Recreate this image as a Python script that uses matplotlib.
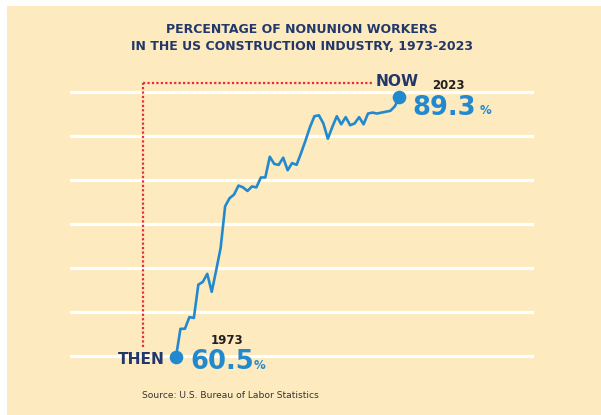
import matplotlib
matplotlib.use("Agg")
import matplotlib.pyplot as plt
from matplotlib.patches import Rectangle
from matplotlib.lines import Line2D
import numpy as np

# ---------------- data ----------------
years = list(range(1973, 2024))
nonunion_pct = [
    60.5, 63.6, 63.6, 64.9, 64.8, 68.5, 68.8, 69.7, 67.7, 70.1,   # 1973-1982
    72.6, 77.2, 78.1, 78.5, 79.5, 79.3, 78.9, 79.4, 79.3, 80.4,   # 1983-1992
    80.4, 82.7, 81.9, 81.8, 82.6, 81.2, 82.0, 81.8, 83.1, 84.5,   # 1993-2002
    86.0, 87.2, 87.3, 86.4, 84.7, 86.0, 87.2, 86.3, 87.1, 86.2,   # 2003-2012
    86.4, 87.1, 86.3, 87.5, 87.6, 87.5, 87.6, 87.7, 87.8, 88.3,   # 2013-2022
    89.3,                                                         # 2023
]
assert len(years) == len(nonunion_pct)

title_lines = ["PERCENTAGE OF NONUNION WORKERS",
               "IN THE US CONSTRUCTION INDUSTRY, 1973-2023"]
start_label = "THEN"
end_label = "NOW"
source_text = "Source: U.S. Bureau of Labor Statistics"

# ---------------- style ----------------
W, H = 601, 415
BG = "#FEEABF"
BLUE = "#2389CF"
NAVY = "#22386A"
DARK = "#231F20"
RED = "#E62E3A"

fig = plt.figure(figsize=(W / 100, H / 100), dpi=100)
fig.patch.set_facecolor("white")
fig.patches.append(Rectangle((7 / W, 0), 1 - 7 / W, (H - 6) / H,
                             transform=fig.transFigure, facecolor=BG,
                             edgecolor="none", zorder=-5))


def fx(px):
    return px / W


def fy(py):
    return 1 - py / H


# axes covering gridline area (pixel box: x 70..533, y 80..370)
ax = fig.add_axes([fx(70), fy(370), fx(533.5) - fx(70), fy(80) - fy(370)])
ax.set_facecolor("none")
ax.set_zorder(1)
for s in ax.spines.values():
    s.set_visible(False)

# pixel -> data mapping derived from picture (1973 -> x=176, 2023 -> x=399.3)
px_per_year = (399.3 - 176) / 50
px_per_pct = (356.7 - 97.3) / (89.3 - 60.5)
x0 = 1973 - (176 - 70) / px_per_year
x1 = 1973 + (533.5 - 176) / px_per_year
y0 = 60.5 - (370 - 356.7) / px_per_pct
y1 = 60.5 + (356.7 - 80) / px_per_pct
ax.set_xlim(x0, x1)
ax.set_ylim(y0, y1)

grid_levels = np.linspace(60.6, 89.92, 7)
ax.set_yticks(grid_levels)
ax.set_xticks([])
ax.tick_params(left=False, labelleft=False)
ax.grid(axis="y", color="white", linewidth=2.3, zorder=1)
ax.set_axisbelow(True)

ax.plot(years, nonunion_pct, color=BLUE, linewidth=1.9, zorder=3,
        solid_joinstyle="round", solid_capstyle="round")
ax.plot([years[0], years[-1]], [nonunion_pct[0], nonunion_pct[-1]], "o",
        color=BLUE, markersize=8.8, zorder=4)

# red dotted guide
dot_kw = dict(color=RED, linewidth=1.6, linestyle=(0, (1.0, 1.0)),
              transform=fig.transFigure, zorder=2)
fig.add_artist(Line2D([fx(142.7), fx(142.7)], [fy(346.7), fy(83.3)], **dot_kw))
fig.add_artist(Line2D([fx(142.7), fx(373.3)], [fy(83.3), fy(83.3)], **dot_kw))

# ---------------- texts ----------------
fig.text(fx(302), fy(32.7), title_lines[0], ha="center", va="baseline",
         fontsize=9.0, fontweight="bold", color=NAVY)
fig.text(fx(302), fy(50), title_lines[1], ha="center", va="baseline",
         fontsize=9.0, fontweight="bold", color=NAVY)

fig.text(fx(376), fy(86), end_label, ha="left", va="baseline",
         fontsize=11.2, fontweight="bold", color=NAVY)
fig.text(fx(431.7), fy(89.3), str(years[-1]), ha="left", va="baseline",
         fontsize=8.5, fontweight="bold", color=DARK)
fig.text(fx(412.7), fy(115), f"{nonunion_pct[-1]:.1f}", ha="left",
         va="baseline", fontsize=18.5, fontweight="heavy", color=BLUE)
fig.text(fx(479.5), fy(114.5), "%", ha="left", va="baseline",
         fontsize=8.5, fontweight="bold", color=BLUE)

fig.text(fx(118.3), fy(364), start_label, ha="left", va="baseline",
         fontsize=11.2, fontweight="bold", color=NAVY)
fig.text(fx(211), fy(344.3), str(years[0]), ha="left", va="baseline",
         fontsize=8.5, fontweight="bold", color=DARK)
fig.text(fx(190), fy(369.3), f"{nonunion_pct[0]:.1f}", ha="left",
         va="baseline", fontsize=18.5, fontweight="heavy", color=BLUE)
fig.text(fx(253.8), fy(369.3), "%", ha="left", va="baseline",
         fontsize=8.5, fontweight="bold", color=BLUE)

fig.text(fx(141.7), fy(398), source_text, ha="left", va="baseline",
         fontsize=6.6, color="#333333")

fig.savefig("out.png", dpi=100, facecolor=fig.get_facecolor())
